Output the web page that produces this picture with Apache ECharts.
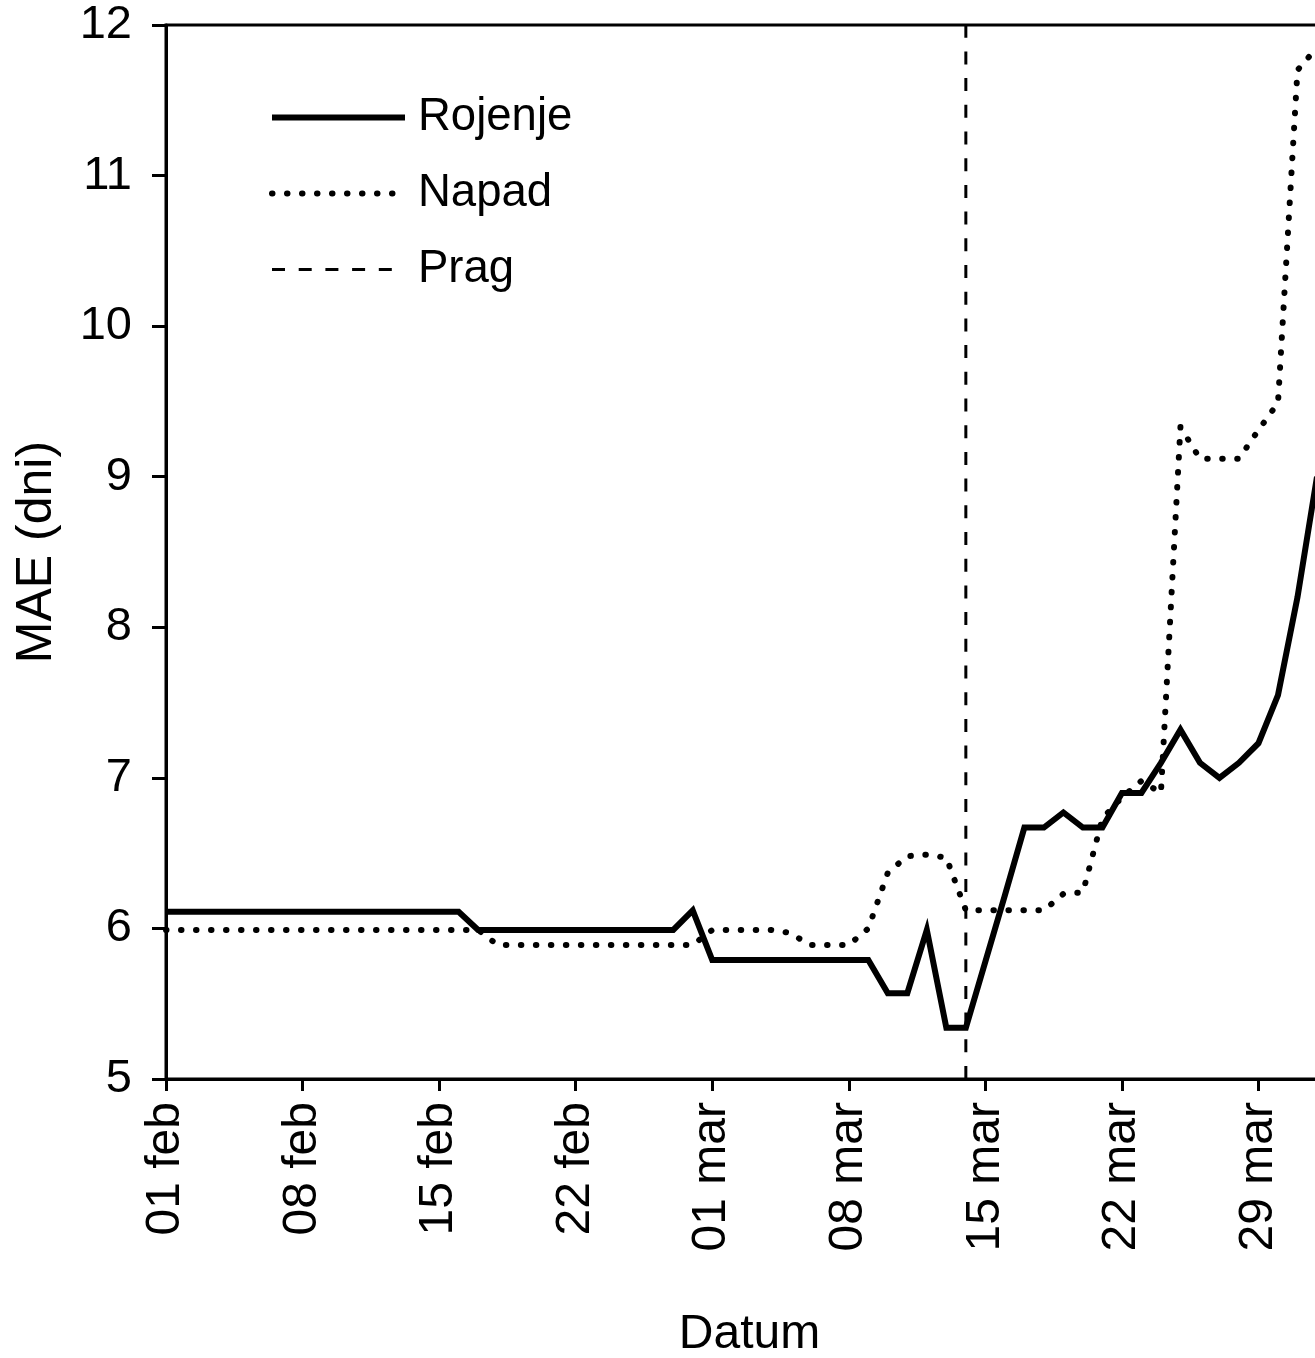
<!DOCTYPE html>
<html><head><meta charset="utf-8">
<script src="https://cdn.jsdelivr.net/npm/echarts@6/dist/echarts.min.js"></script>
<style>html,body{margin:0;padding:0;background:#fff}#c{width:1315px;height:1358px}</style>
</head><body><div id="c"></div>
<script>
// Day index 0 = 01 feb ... 59 = 01 apr
const tickLabels = ['01 feb','08 feb','15 feb','22 feb','01 mar','08 mar','15 mar','22 mar','29 mar'];
const rojenje = [
  6.11,6.11,6.11,6.11,6.11,6.11,6.11,6.11,6.11,6.11,6.11,6.11,6.11,6.11,6.11,6.11,
  5.99,5.99,5.99,5.99,5.99,5.99,5.99,5.99,5.99,5.99,5.99,
  6.12,
  5.79,5.79,5.79,5.79,5.79,5.79,5.79,5.79,5.79,
  5.57,5.57,5.99,5.34,5.34,
  5.78,6.22,6.67,6.67,6.77,6.67,6.67,6.90,6.90,7.10,7.32,7.10,7.00,7.10,7.23,7.55,8.20,9.00
];
const napad = [
  5.99,5.99,5.99,5.99,5.99,5.99,5.99,5.99,5.99,5.99,5.99,5.99,5.99,5.99,5.99,5.99,5.99,
  5.89,5.89,5.89,5.89,5.89,5.89,5.89,5.89,5.89,5.89,5.89,
  5.99,5.99,5.99,5.99,5.97,5.89,5.89,5.89,6.00,6.37,6.48,6.49,6.47,
  6.12,6.12,6.12,6.12,6.12,6.23,6.24,6.73,6.87,6.98,6.90,9.33,9.12,9.12,9.12,9.31,9.49,11.70,11.85
];
const pragDay = 41;
const yRange = [5, 12];

const font = 'Liberation Sans, Arial, sans-serif';
const chart = echarts.init(document.getElementById('c'), null, {renderer: 'canvas'});
chart.setOption({
  backgroundColor: '#fff',
  animation: false,
  grid: {left: 166, top: 25, right: -2, bottom: 279, show: true, borderColor: '#000', borderWidth: 3,
         containLabel: false, outerBoundsMode: 'none'},
  legend: {
    left: 269, top: 94, orient: 'vertical', padding: 0,
    itemWidth: 133, itemHeight: 14, itemGap: 29,
    itemStyle: {opacity: 0, borderWidth: 0},
    lineStyle: {width: 'inherit'},
    textStyle: {fontFamily: font, fontSize: 45.5, color: '#000', lineHeight: 47, padding: [0,0,0,8]},
    data: ['Rojenje', 'Napad', 'Prag']
  },
  xAxis: {
    type: 'value', min: 0, max: 59, interval: 7,
    name: 'Datum', nameLocation: 'middle', nameGap: 232,
    nameTextStyle: {fontFamily: font, fontSize: 48, color: '#000', padding: [0, 0, 0, 16]},
    axisLine: {show: true, lineStyle: {color: '#000', width: 3}},
    axisTick: {show: true, inside: false, length: 12, lineStyle: {color: '#000', width: 3}},
    axisLabel: {
      rotate: 90, margin: 23, fontFamily: font, fontSize: 48, color: '#000',
      formatter: v => (v % 7 === 0 && tickLabels[v / 7]) ? tickLabels[v / 7] : ''
    },
    splitLine: {show: false}
  },
  yAxis: {
    type: 'value', min: yRange[0], max: yRange[1], interval: 1,
    name: 'MAE (dni)', nameLocation: 'middle', nameGap: 104,
    nameTextStyle: {fontFamily: font, fontSize: 50, color: '#000'},
    axisLine: {show: true, lineStyle: {color: '#000', width: 3}},
    axisTick: {show: true, inside: false, length: 14, lineStyle: {color: '#000', width: 3}},
    axisLabel: {margin: 34, fontFamily: font, fontSize: 47, color: '#000'},
    splitLine: {show: false}
  },
  series: [
    {
      name: 'Rojenje', type: 'line', symbol: 'none',
      data: rojenje.map((v, i) => [i, v]),
      lineStyle: {color: '#000', width: 6, join: 'miter', cap: 'butt'},
      itemStyle: {color: '#000'}, z: 3
    },
    {
      name: 'Napad', type: 'line', symbol: 'none',
      data: napad.map((v, i) => [i, v]),
      lineStyle: {color: '#000', width: 6, type: [0.5, 14.5], cap: 'round'},
      itemStyle: {color: '#000'}, z: 2
    },
    {
      name: 'Prag', type: 'line', symbol: 'none',
      data: [[pragDay, yRange[0]], [pragDay, yRange[1]]],
      lineStyle: {color: '#000', width: 3, type: [13, 13.7]},
      itemStyle: {color: '#000'}, z: 1
    }
  ]
});
</script></body></html>
